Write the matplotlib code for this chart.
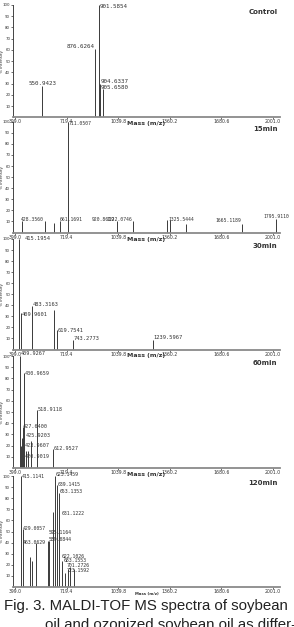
import matplotlib
matplotlib.use('Agg')
import matplotlib.pyplot as plt

W, H = 294, 627

mass_ticks = [399.0, 719.4, 1039.8, 1360.2, 1680.6, 2001.0]
intensity_ticks = [10, 20, 30, 40, 50, 60, 70, 80, 90, 100]
panel_names = ['Control', '15min', '30min', '60min', '120min']

# peaks: m/z positions, relative intensity (%)
control_mz = [569, 896, 921, 928, 947]
control_int = [28, 60.5, 100, 30, 25]
control_lab = ['550.9423', '876.6264', '901.5854', '904.6337', '905.6580']
control_lab_mz = [569, 894, 923, 933, 933]
control_lab_lvl = [30.3, 62.9, 99, 32.3, 26.4]
control_lab_ha = ['center', 'right', 'left', 'left', 'left']

min15_mz = [444, 585, 643, 677, 726, 1034, 1134, 1341, 1362, 1461, 1811, 2018]
min15_int = [10, 10, 8.5, 10, 100, 10, 10, 11, 11, 7.5, 7.5, 12]
min15_lab = ['428.3560', '661.1691', '711.0507', '920.8619', '1122.0746',
             '1325.5444', '1665.1189', '1795.9110']
min15_lab_mz = [436, 679, 730, 1020, 1130, 1351, 1801, 2020]
min15_lab_lvl = [11.3, 11.3, 98.5, 11.3, 11.3, 11.3, 10.4, 14.3]
min15_lab_ha = ['left', 'left', 'left', 'right', 'right', 'left', 'right', 'center']

min30_mz = [426, 434, 503, 643, 658, 761, 1258]
min30_int = [100, 33, 39, 36, 18, 9, 9]
min30_lab = ['415.1954', '409.9601', '483.3163', '619.7541', '743.2773', '1239.5967']
min30_lab_mz = [461, 441, 509, 662, 765, 1258]
min30_lab_lvl = [100, 32, 40.3, 17.6, 10.1, 11]
min30_lab_ha = ['left'] * 6

min60_mz = [430, 438, 442, 447, 455, 467, 482, 498, 538, 633]
min60_int = [100, 20, 27, 37, 85, 15, 15, 24, 52, 17]
min60_lab = ['409.9267', '430.9659', '518.9118', '427.6400', '425.9203',
             '423.9607', '420.9019', '612.9527']
min60_lab_mz = [434, 459, 538, 447, 467, 461, 461, 637]
min60_lab_lvl = [102.4, 84.6, 52.4, 37.5, 28.9, 20.5, 10.7, 17.6]
min60_lab_ha = ['left'] * 8

min120_mz = [434, 447, 492, 506, 529, 602, 612, 637, 647, 662, 674,
             691, 712, 726, 741, 765]
min120_int = [100, 52, 27, 23, 40, 41, 41, 68, 100, 92, 85,
              23, 13, 16, 18, 16]
min120_lab = ['415.1141', '623.1459', '639.1415', '653.1353', '631.1222',
              '429.0057', '595.1164', '589.0844', '463.0629', '622.1026',
              '683.1553', '701.2726', '723.1592']
min120_lab_mz = [441, 654, 662, 679, 689, 447, 606, 606, 447, 689, 703, 720, 720]
min120_lab_lvl = [99.4, 101.8, 92.5, 85.6, 66.4, 52.9, 48.9, 42.9, 40.3,
                  27.3, 23.7, 19.2, 15.3]
min120_lab_ha = ['left'] * 13

panels = [
    (control_mz, control_int, control_lab, control_lab_mz, control_lab_lvl, control_lab_ha),
    (min15_mz, min15_int, min15_lab, min15_lab_mz, min15_lab_lvl, min15_lab_ha),
    (min30_mz, min30_int, min30_lab, min30_lab_mz, min30_lab_lvl, min30_lab_ha),
    (min60_mz, min60_int, min60_lab, min60_lab_mz, min60_lab_lvl, min60_lab_ha),
    (min120_mz, min120_int, min120_lab, min120_lab_mz, min120_lab_lvl, min120_lab_ha),
]

# pixel rows of 100 % and 0 % for each panel
rows = [(5, 117.3), (121.7, 232.5), (239, 349.5), (356, 468), (476, 587)]
label_sizes = [4.2, 3.4, 3.9, 3.7, 3.5]
x_left, x_right = 13, 280

fig = plt.figure(figsize=(W / 100, H / 100), dpi=100)
fig.patch.set_facecolor('white')

for i, (mz, inten, labs, lab_mz, lab_lvl, lab_ha) in enumerate(panels):
    top, bot = rows[i]
    ax = fig.add_axes([x_left / W, 1 - bot / H, (x_right - x_left) / W, (bot - top) / H])
    ax.vlines(mz, 0, inten, color='#3a3a3a', lw=0.7)
    for t, x, y, ha in zip(labs, lab_mz, lab_lvl, lab_ha):
        ax.text(x, y, t, ha=ha, va='center', fontsize=label_sizes[i],
                family='DejaVu Sans Mono', color='#333333', clip_on=False)
    ax.set_xlim(386.6, 2044.5)
    ax.set_ylim(0, 100)
    ax.set_xticks(mass_ticks)
    ax.set_xticklabels(['%.1f' % m for m in mass_ticks])
    ax.set_yticks(intensity_ticks)
    ax.tick_params(axis='y', labelsize=2.8, length=1.5, width=0.5, pad=0.5, colors='#333333')
    ax.tick_params(axis='x', labelsize=3.3, length=1.2, width=0.5, pad=0.3, colors='#333333')
    for s in ['top', 'right']:
        ax.spines[s].set_visible(False)
    ax.spines['left'].set_color('#444444')
    ax.spines['left'].set_linewidth(0.7)
    ax.spines['bottom'].set_color('#8a8a8a')
    ax.spines['bottom'].set_linewidth(1.3)
    ax.set_facecolor('none')
    ax.set_ylabel('% Intensity', fontsize=3, color='#333333')
    ax.yaxis.set_label_coords(-8.5 / (x_right - x_left), 0.5)
    ax.text(0.99, 1 - 7.0 / (bot - top), panel_names[i], transform=ax.transAxes,
            ha='right', va='center', fontsize=5, fontweight='bold', color='#333333')
    msize = 4.5 if i < 4 else 2.8
    ax.text(0.5, -6.5 / (bot - top), 'Mass (m/z)', transform=ax.transAxes,
            ha='center', va='center', fontsize=msize, fontweight='bold', color='#333333')

cap_font = ['Liberation Sans', 'DejaVu Sans']
fig.text(4 / W, 1 - 610 / H, 'Fig. 3. MALDI-TOF MS spectra of soybean', ha='left',
         va='baseline', fontsize=10.8, family=cap_font, color='#222222')
fig.text(45 / W, 1 - 629 / H, 'oil and ozonized soybean oil as differ-', ha='left',
         va='baseline', fontsize=10.8, family=cap_font, color='#222222')

fig.savefig('out.png', dpi=100, facecolor='white')
